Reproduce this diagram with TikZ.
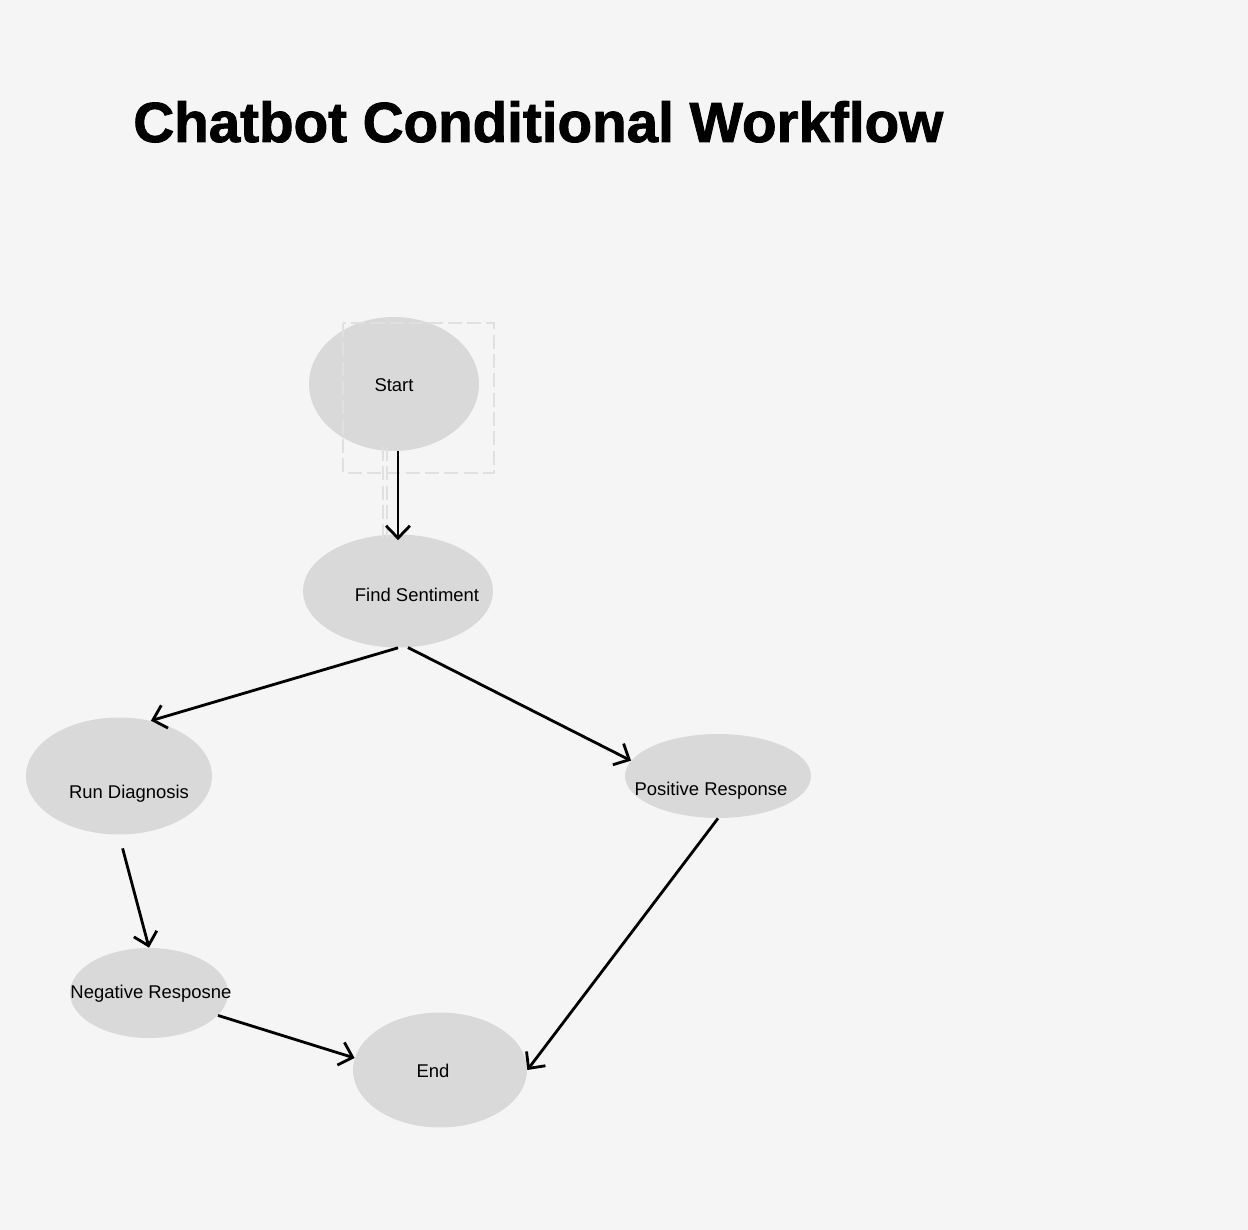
\documentclass[tikz,border=0pt]{standalone}
\usepackage{fontspec}
\setmainfont{Liberation Sans}
\newfontfamily\titlefont[BoldFont=Liberation Sans Bold,BoldFeatures={FakeBold=1.6}]{Liberation Sans}
\usetikzlibrary{shapes.geometric,arrows.meta}
\definecolor{canvas}{HTML}{F5F5F5}
\definecolor{blobgray}{HTML}{D9D9D9}
\definecolor{guide}{HTML}{E0E0E0}
\tikzset{
  blob/.style={ellipse,fill=blobgray,inner sep=0pt},
  flow/.style={-{Straight Barb[length=7pt,width=13.5pt]},line width=1.6pt},
  guideline/.style={guide,line width=1pt,dash pattern=on 8pt off 3pt}
}

\begin{document}
\begin{tikzpicture}[x=0.02cm,y=-0.02cm,font=\fontsize{10.5}{12}\selectfont]
  \fill[canvas] (0,0) rectangle (1248,1230);
  \node[anchor=base west,inner sep=0pt,font=\titlefont\fontsize{32.2}{36}\selectfont\bfseries] (title) at (133,142) {Chatbot Conditional Workflow};

  % states
  \node[blob,minimum width=3.4cm,minimum height=2.68cm,label={[shift={(0,1)}]center:Start}] (start) at (394,384) {};
  \node[blob,minimum width=3.8cm,minimum height=2.26cm,label={[shift={(19,4)}]center:Find Sentiment}] (find) at (398,591) {};
  \node[blob,minimum width=3.72cm,minimum height=2.34cm,label={[shift={(10,18)}]center:Run Diagnosis}] (run) at (119,776) {};
  \node[blob,minimum width=3.72cm,minimum height=1.68cm,label={[shift={(-7,15)}]center:Positive Response}] (pos) at (718,776) {};
  \node[blob,minimum width=3.16cm,minimum height=1.8cm,label={[shift={(2,1)}]center:Negative Resposne}] (neg) at (149,993) {};
  \node[blob,minimum width=3.48cm,minimum height=2.3cm,label={[shift={(-7,1)}]center:End}] (end) at (440,1070) {};

  % selection marks left around start
  \draw[guideline] (343,323) rectangle (494,473);
  \draw[guideline] (383,447) -- (383,540) (387,447) -- (387,540);

  % transitions
  \draw[flow,shorten >=-0.12cm] (start.south -| find) -- (find.north);
  \draw[flow] (find.south) -- (run.60);
  \draw[flow] (find.-80) -- (pos.170);
  \draw[flow,shorten <=0.28cm] (run.south) -- (neg.north);
  \draw[flow] (neg.-18) -- (end.172);
  \draw[flow] (pos.south) -- (end.east);
\end{tikzpicture}
\end{document}
